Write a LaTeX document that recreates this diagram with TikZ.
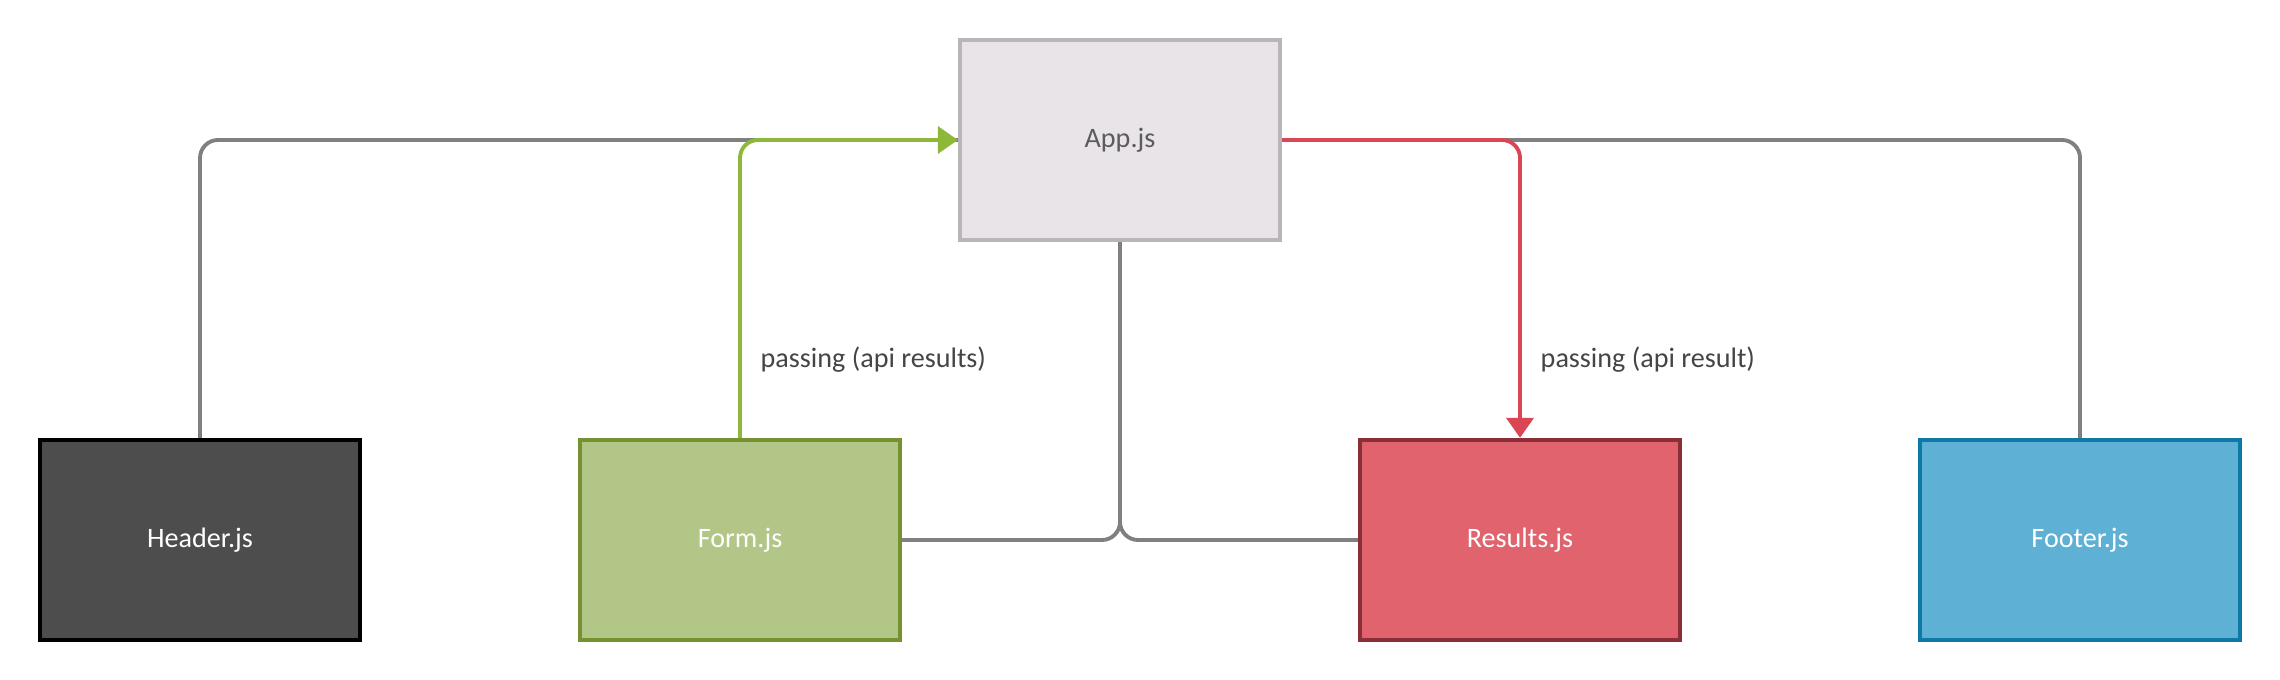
\documentclass[tikz,border=0pt]{standalone}
\usepackage{fontspec}
\setmainfont{Carlito}
\usetikzlibrary{arrows.meta}
\definecolor{appfill}{HTML}{E8E4E8}
\definecolor{appdraw}{HTML}{B8B6B8}
\definecolor{apptext}{HTML}{5C5C5C}
\definecolor{hdrfill}{HTML}{4D4D4D}
\definecolor{hdrdraw}{HTML}{000000}
\definecolor{formfill}{HTML}{B2C687}
\definecolor{formdraw}{HTML}{759130}
\definecolor{resfill}{HTML}{E0636D}
\definecolor{resdraw}{HTML}{8A2E37}
\definecolor{ftrfill}{HTML}{5EB0D4}
\definecolor{ftrdraw}{HTML}{0E78A6}
\definecolor{greenline}{HTML}{8DB83A}
\definecolor{redline}{HTML}{DA4654}
\definecolor{grayline}{HTML}{808080}
\definecolor{labeltext}{HTML}{454545}
\tikzset{
  box/.style={rectangle, minimum width=3.2cm, minimum height=2cm, inner sep=0pt,
    line width=1.2pt, font=\fontsize{8}{10}\selectfont, text=white},
  conn/.style={line width=1.1pt, rounded corners=0.18cm, draw=grayline},
  arrowtip/.style={-{Triangle[length=0.2cm,width=0.27cm]}},
  lbl/.style={font=\fontsize{8}{10}\selectfont, text=labeltext, anchor=west, inner sep=0pt}
}
\begin{document}
\begin{tikzpicture}[x=0.01cm,y=-0.01cm]
\useasboundingbox (0,0) rectangle (2280,680);
\fill[white] (0,0) rectangle (2280,680);
\node[box, fill=appfill, draw=appdraw, text=apptext] (app) at (1120,140) {App.js};
\node[box, fill=hdrfill, draw=hdrdraw] (hdr) at (200,540) {Header.js};
\node[box, fill=formfill, draw=formdraw] (form) at (740,540) {Form.js};
\node[box, fill=resfill, draw=resdraw] (res) at (1520,540) {Results.js};
\node[box, fill=ftrfill, draw=ftrdraw] (ftr) at (2080,540) {Footer.js};
% gray connectors
\draw[conn] (hdr.north) |- (app.west);
\draw[conn] (ftr.north) |- (app.east);
\draw[conn] (app.south) |- (form.east);
\draw[conn] (app.south) |- (res.west);
% coloured connectors
\draw[conn, draw=greenline, arrowtip] (form.north) |- (app.west);
\draw[conn, draw=redline, arrowtip] (app.east) -| (res.north);
% labels
\node[lbl] (l1) at (760,360) {passing (api results)};
\node[lbl] (l2) at (1540,360) {passing (api result)};
\end{tikzpicture}
\end{document}
